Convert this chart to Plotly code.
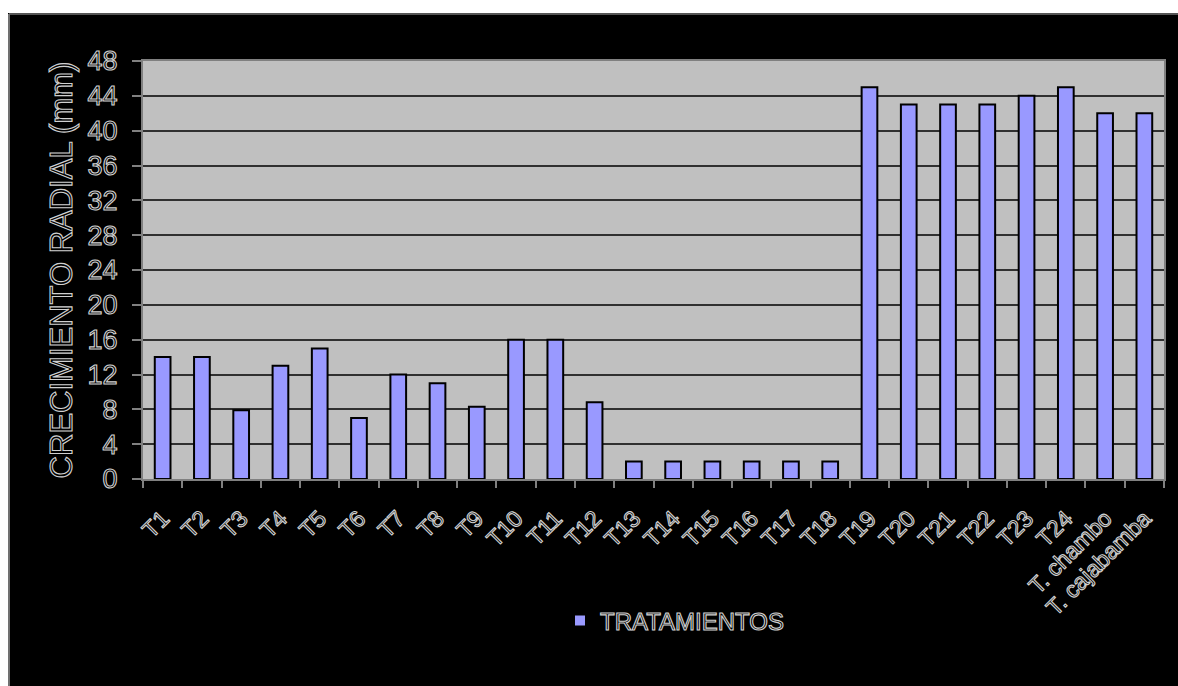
import plotly.graph_objects as go

categories = ["T1", "T2", "T3", "T4", "T5", "T6", "T7", "T8", "T9", "T10", "T11", "T12",
              "T13", "T14", "T15", "T16", "T17", "T18", "T19", "T20", "T21", "T22", "T23", "T24",
              "T. chambo", "T. cajabamba"]
values = [14, 14, 7.9, 13, 15, 7, 12, 11, 8.3, 16, 16, 8.8,
          2, 2, 2, 2, 2, 2, 45, 43, 43, 43, 44, 45, 42, 42]
series_name = "TRATAMIENTOS"
y_title = "CRECIMIENTO RADIAL (mm)"

FONT = "Liberation Sans, Arial, sans-serif"

W, H = 1178, 686
L, R, T, B = 143, 1164, 61, 479

def px_x(X):
    return (X - L) / (R - L)

def px_y(Y):
    return (B - Y) / (B - T)

fig = go.Figure()
fig.add_trace(go.Bar(
    x=categories, y=values, name=series_name,
    marker=dict(color="#9999ff", line=dict(color="#000000", width=2)),
    showlegend=True,
))

fig.update_layout(
    width=W, height=H,
    margin=dict(l=L, r=W - R, t=T, b=H - B, pad=0),
    paper_bgcolor="#000000",
    plot_bgcolor="#c0c0c0",
    bargap=0.6,
    font=dict(family=FONT, color="#000000"),
    showlegend=True,
    legend=dict(
        orientation="h", x=px_x(560), xanchor="left", y=px_y(621), yanchor="middle",
        font=dict(size=24, family=FONT, color="#000000"),
        bgcolor="rgba(0,0,0,0)",
    ),
    xaxis=dict(
        type="category",
        tickangle=-45,
        tickson="boundaries",
        ticks="outside", ticklen=7, tickcolor="#808080", tickwidth=2,
        ticklabelstandoff=15,
        tickfont=dict(size=23, family=FONT, color="#000000"),
        showline=True, linecolor="#808080", linewidth=2, mirror=True,
        showgrid=False,
    ),
    yaxis=dict(
        range=[0, 48], dtick=4, tick0=0,
        ticks="outside", ticklen=9, tickcolor="#808080", tickwidth=2,
        ticklabelstandoff=9,
        tickfont=dict(size=27, family=FONT, color="#000000"),
        showline=True, linecolor="#808080", linewidth=2, mirror=True,
        showgrid=True, gridcolor="#303030", gridwidth=1.5,
        zeroline=False,
        title=dict(text=y_title, standoff=6,
                   font=dict(size=31, family=FONT, color="#000000")),
    ),
    shapes=[
        dict(type="rect", xref="paper", yref="paper",
             x0=px_x(-5), x1=px_x(W + 5), y0=px_y(-5), y1=px_y(13),
             fillcolor="#ffffff", line=dict(width=0), layer="below"),
        dict(type="rect", xref="paper", yref="paper",
             x0=px_x(-5), x1=px_x(8), y0=px_y(-5), y1=px_y(H + 5),
             fillcolor="#ffffff", line=dict(width=0), layer="below"),
        dict(type="line", xref="paper", yref="paper",
             x0=px_x(9), x1=px_x(W + 5), y0=px_y(14), y1=px_y(14),
             line=dict(color="#555555", width=2), layer="below"),
        dict(type="line", xref="paper", yref="paper",
             x0=px_x(9), x1=px_x(9), y0=px_y(14), y1=px_y(H + 5),
             line=dict(color="#707070", width=2), layer="below"),
    ],
)

outline_js = """
var st = document.createElement('style');
st.textContent = '.xtick text, .ytick text, .legendtext, .ytitle, .g-ytitle text '
  + '{ stroke: #d0d0d0; stroke-width: 1.1px; }';
document.head.appendChild(st);
"""

fig.write_html("out.html", post_script=outline_js)
